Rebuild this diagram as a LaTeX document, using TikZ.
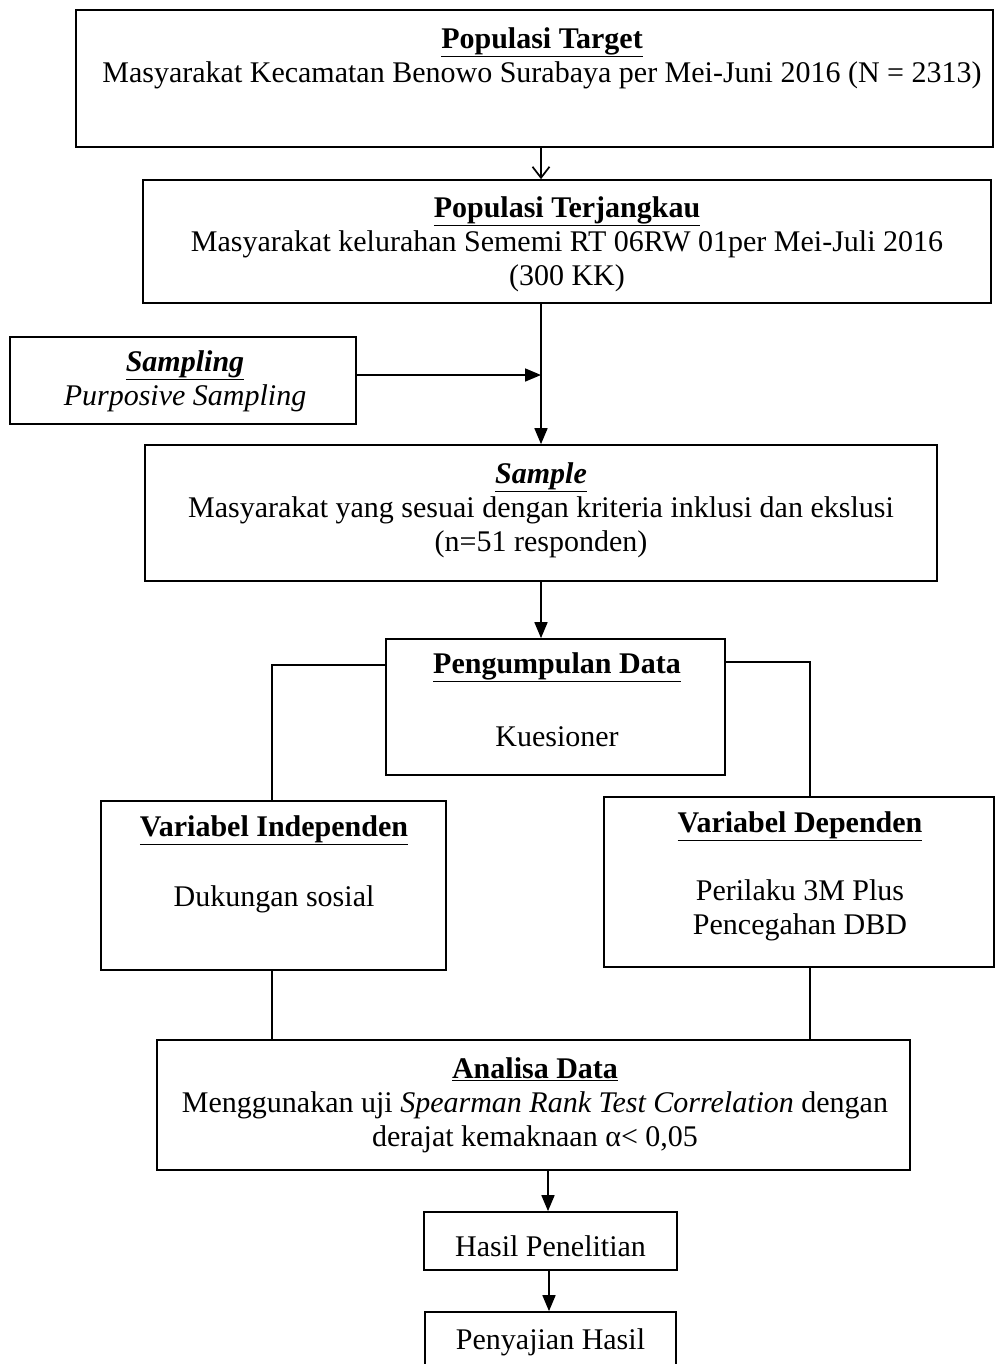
\documentclass[tikz,border=0pt]{standalone}
\usepackage{fontspec}
\setmainfont{Liberation Serif}
\usetikzlibrary{arrows.meta}
\begin{document}
\begin{tikzpicture}[x=1pt,y=-1pt,
  box/.style={draw,line width=1.7pt,inner sep=0pt},
  txt/.style={align=center,inner sep=0pt,font=\fontsize{30}{34}\selectfont},
  conn/.style={line width=1.7pt},
  arr/.style={conn,-{Triangle[length=16pt,width=13pt]}},
  oarr/.style={conn,-{Straight Barb[length=11pt,width=17pt,line width=1.7pt]}}]
\useasboundingbox (0,0) rectangle (996,1364);
\fill[white] (0,0) rectangle (996,1364);
% boxes
\node[box,minimum width=917pt,minimum height=137pt] (T1) at (534.5,78.5) {};
\node[box,minimum width=848pt,minimum height=123pt] (T2) at (567,241.5) {};
\node[box,minimum width=346pt,minimum height=87pt] (SP) at (183,380.5) {};
\node[box,minimum width=792pt,minimum height=136pt] (S) at (541,513) {};
\node[box,minimum width=339pt,minimum height=136pt] (PD) at (555.5,707) {};
\node[box,minimum width=345pt,minimum height=169pt] (VI) at (273.5,885.5) {};
\node[box,minimum width=390pt,minimum height=170pt] (VD) at (799,882) {};
\node[box,minimum width=753pt,minimum height=130pt] (AD) at (533.5,1105) {};
\node[box,minimum width=253pt,minimum height=58pt] (HP) at (550.5,1241) {};
\node[box,minimum width=251pt,minimum height=60pt] (PH) at (550.5,1342) {};
% texts
\node[txt] (T1t) at (542,58) {\underline{\textbf{Populasi Target}}\\Masyarakat Kecamatan Benowo Surabaya per Mei-Juni 2016 (N = 2313)};
\node[txt] (T2t) at (567,244) {\underline{\textbf{Populasi Terjangkau}}\\Masyarakat kelurahan Sememi RT 06RW 01per Mei-Juli 2016\\(300 KK)};
\node[txt] (SPt) at (185,381) {\underline{\textbf{\textit{Sampling}}}\\\textit{Purposive Sampling}};
\node[txt] (St) at (541,510) {\underline{\textbf{\textit{Sample}}}\\Masyarakat yang sesuai dengan kriteria inklusi dan ekslusi\\(n=51 responden)};
\node[txt] (PDt) at (557,667) {\underline{\textbf{Pengumpulan Data}}};
\node[txt] (PDb) at (557,737) {Kuesioner};
\node[txt] (VIt) at (274,830) {\underline{\textbf{Variabel Independen}}};
\node[txt] (VIb) at (274,899) {Dukungan sosial};
\node[txt] (VDt) at (800,826) {\underline{\textbf{Variabel Dependen}}};
\node[txt] (VDb) at (800,910) {Perilaku 3M Plus\\Pencegahan DBD};
\node[txt] (ADt) at (535,1105) {\underline{\textbf{Analisa Data}}\\Menggunakan uji \textit{Spearman Rank Test Correlation} dengan\\derajat kemaknaan α< 0,05};
\node[txt] (HPt) at (550.5,1246) {Hasil Penelitian};
\node[txt] (PHt) at (550.5,1342) {Penyajian Hasil};
% coordinates
\coordinate (c1) at (541,0);
\coordinate (sy) at (0,375);
\coordinate (pl) at (272,665);
\coordinate (pr) at (810,662);
\coordinate (c2) at (548,0);
\coordinate (c3) at (549,0);
% connectors
\draw[oarr] (T1.south -| c1) -- (T2.north -| c1);
\draw[arr] (T2.south -| c1) -- (S.north -| c1);
\draw[arr] (SP.east |- sy) -- (c1 |- sy);
\draw[arr] (S.south -| c1) -- (PD.north -| c1);
\draw[conn] (PD.west |- pl) -- (pl) -- (VI.north -| pl);
\draw[conn] (PD.east |- pr) -- (pr) -- (VD.north -| pr);
\draw[conn] (VI.south -| pl) -- (AD.north -| pl);
\draw[conn] (VD.south -| pr) -- (AD.north -| pr);
\draw[arr] (AD.south -| c2) -- (HP.north -| c2);
\draw[arr] (HP.south -| c3) -- (PH.north -| c3);
\end{tikzpicture}
\end{document}
